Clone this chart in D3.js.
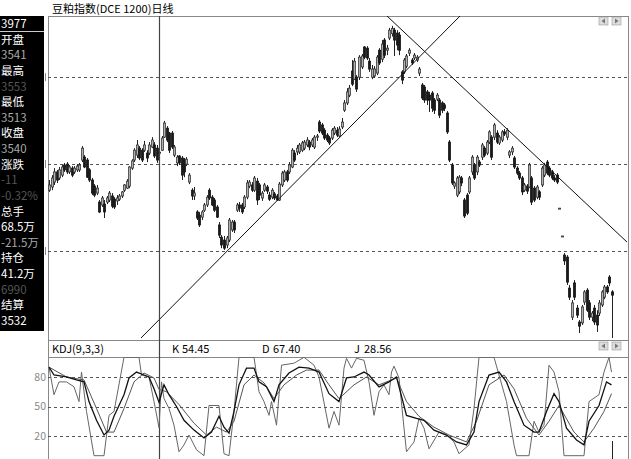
<!DOCTYPE html>
<html><head><meta charset="utf-8">
<script src="https://cdn.jsdelivr.net/npm/d3@7"></script>
<style>body{margin:0;background:#fff}svg{display:block}text{font-family:"Noto Sans CJK SC","Liberation Sans",sans-serif}</style>
</head><body><svg id="c" width="631" height="459"></svg>
<script>
const opens=[3410,3421,3438,3473,3452,3462,3497,3500,3473,3486,3473,3480,3480,3514,3524,3514,3480,3445,3424,3400,3369,3359,3362,3369,3376,3390,3379,3373,3379,3390,3410,3417,3424,3486,3514,3531,3555,3548,3548,3538,3538,3559,3566,3555,3541,3548,3593,3624,3607,3607,3531,3504,3528,3521,3514,3500,3438,3410,3390,3335,3324,3317,3341,3359,3410,3386,3376,3352,3290,3248,3238,3221,3238,3273,3300,3341,3359,3359,3352,3386,3424,3428,3410,3441,3428,3383,3410,3421,3393,3386,3397,3390,3376,3428,3445,3473,3473,3490,3538,3542,3542,3548,3555,3566,3576,3566,3559,3593,3645,3635,3617,3600,3590,3590,3607,3617,3597,3628,3686,3711,3738,3821,3793,3800,3800,3835,3904,3900,3855,3800,3804,3814,3893,3862,3928,3893,3935,3950,3962,3952,3945,3818,3818,3838,3883,3859,3866,3859,3814,3773,3766,3749,3738,3745,3721,3724,3721,3711,3704,3676,3576,3497,3424,3393,3404,3452,3376,3393,3404,3473,3497,3473,3507,3524,3555,3538,3576,3593,3593,3607,3573,3583,3611,3593,3531,3542,3521,3486,3469,3452,3410,3424,3421,3452,3417,3386,3404,3428,3462,3507,3486,3473,3452,3462,3348,3252,3186,3179,3072,2972,3090,3003,2955,2952,3024,3065,3021,2972,3003,2979,2986,3014,3041,3076,3110,3059];
const highs=[3445,3462,3486,3480,3490,3497,3504,3507,3497,3493,3493,3500,3504,3562,3531,3521,3486,3452,3431,3428,3376,3390,3376,3390,3407,3400,3386,3393,3397,3407,3431,3448,3493,3517,3555,3583,3562,3555,3580,3548,3576,3593,3576,3566,3553,3597,3649,3631,3611,3614,3566,3531,3531,3528,3521,3524,3469,3417,3421,3341,3335,3341,3366,3393,3417,3393,3383,3359,3300,3255,3252,3252,3314,3307,3307,3366,3369,3366,3393,3445,3445,3438,3459,3452,3435,3407,3435,3428,3404,3417,3404,3397,3438,3476,3480,3480,3507,3555,3548,3566,3573,3580,3583,3593,3583,3590,3600,3604,3652,3642,3624,3607,3597,3624,3631,3628,3631,3659,3721,3762,3773,3859,3866,3807,3876,3880,3907,3907,3866,3842,3838,3876,3900,3928,3935,3911,3970,3977,3970,3962,3956,3824,3866,3880,3900,3866,3883,3876,3835,3780,3773,3756,3749,3752,3728,3745,3728,3717,3711,3683,3583,3504,3441,3459,3462,3459,3383,3400,3459,3531,3504,3531,3514,3573,3562,3583,3617,3600,3642,3617,3600,3617,3621,3624,3548,3562,3528,3493,3476,3459,3435,3431,3504,3459,3424,3428,3410,3493,3504,3514,3493,3480,3462,3469,3348,3252,3193,3186,3083,3031,3100,3014,2962,3014,3065,3072,3031,2993,3014,2996,3031,3065,3083,3083,3117,3065];
const lows=[3404,3410,3428,3435,3445,3455,3473,3466,3466,3455,3466,3473,3473,3507,3486,3452,3438,3393,3386,3393,3331,3352,3314,3362,3369,3348,3345,3359,3373,3383,3404,3414,3417,3480,3507,3521,3514,3507,3542,3507,3531,3555,3521,3504,3513,3545,3590,3576,3538,3552,3524,3493,3497,3445,3455,3493,3431,3376,3376,3307,3283,3307,3335,3352,3376,3355,3335,3314,3245,3210,3204,3210,3231,3266,3262,3335,3335,3328,3345,3379,3417,3404,3404,3359,3376,3373,3404,3397,3373,3379,3376,3373,3373,3421,3438,3438,3466,3486,3507,3531,3535,3542,3548,3559,3548,3559,3552,3580,3607,3600,3583,3576,3566,3583,3600,3593,3593,3621,3680,3704,3731,3769,3790,3749,3790,3828,3862,3859,3818,3793,3797,3807,3842,3852,3866,3876,3928,3940,3873,3893,3876,3776,3811,3831,3873,3842,3859,3852,3804,3721,3711,3704,3680,3680,3673,3717,3659,3676,3683,3604,3507,3428,3414,3386,3397,3424,3314,3324,3397,3462,3445,3462,3490,3514,3524,3531,3569,3514,3583,3569,3566,3576,3597,3583,3521,3531,3483,3462,3445,3393,3404,3397,3417,3359,3369,3379,3376,3421,3455,3462,3455,3445,3438,3431,3348,3252,3152,3083,3031,2962,3031,2969,2917,2945,3014,2990,2962,2958,2945,2921,2976,3007,3034,3052,3079,2900];
const closes=[3428,3452,3473,3445,3480,3490,3480,3473,3490,3462,3486,3493,3497,3555,3490,3455,3445,3400,3393,3417,3335,3383,3335,3383,3400,3355,3352,3383,3390,3404,3428,3441,3490,3511,3548,3566,3521,3514,3566,3521,3566,3583,3528,3514,3540,3590,3642,3583,3548,3559,3559,3524,3504,3462,3473,3517,3462,3390,3400,3314,3290,3335,3359,3386,3383,3359,3341,3317,3255,3221,3210,3245,3307,3300,3273,3359,3348,3335,3386,3435,3438,3410,3452,3376,3393,3400,3428,3407,3379,3410,3383,3376,3431,3469,3473,3445,3497,3548,3514,3555,3566,3573,3576,3583,3559,3583,3593,3597,3614,3607,3590,3583,3573,3617,3624,3600,3621,3645,3711,3749,3762,3776,3855,3759,3869,3873,3869,3866,3828,3828,3828,3869,3849,3914,3876,3900,3962,3968,3928,3911,3893,3790,3859,3873,3893,3849,3876,3869,3828,3728,3721,3721,3721,3693,3686,3738,3669,3686,3693,3611,3514,3435,3435,3452,3455,3435,3321,3331,3452,3524,3452,3524,3497,3566,3531,3576,3611,3524,3635,3576,3593,3611,3604,3617,3542,3555,3490,3469,3452,3404,3428,3407,3497,3369,3376,3421,3386,3486,3497,3469,3462,3452,3445,3438,3348,3252,3166,3093,3041,3021,3041,2979,2941,3007,3059,2996,2972,2986,2955,2945,3021,3059,3076,3059,3090,3048];
const priceTicks=[3800,3500,3200];
const cursorIndex=44;
const riseIdx=[36.8,164.4], risePrice=[2900,4011];
const fallIdx=[135.2,231.2], fallPrice=[4011,3231];
const kIdx=[0,2,7,11,14,16,19,22,24,26,30,32,35,38,40,42,44,46,48,51,54,58,62,65,68,70,72,74,76,79,82,84,87,90,92,96,100,104,108,112,116,119,122,126,128,132,136,139,143,147,150,154,159,163,167,170,172,176,180,183,186,190,194,196,199,202,204,207,211,214,216,220,223,225];
const kVal=[90,82,80,77,75,55,36,21,26,40,62,79,85,82,80,68,54.45,72,62,50,36,26,18,24,40,29,23,45,72,89,89,75,70,55,72,84,90,89,85,63,55,79,80,85,82,70,75,80,41,38,36,26,21,14,11,24,55,82,85,75,55,31,24,24,45,63,55,28,16,11,35,51,75,72];
const dIdx=[0,7,14,19,23,26,30,34,38,42,44,47,52,58,63,67,71,74,78,82,86,90,94,99,103,108,112,116,122,127,132,139,143,148,154,160,167,171,176,182,186,191,196,200,204,210,214,218,222,225];
const dVal=[90,80,77,48,24,24,48,75,84,79,67.4,65,52,33,21,29,24,35,72,82,74,58,72,82,87,87,72,58,72,80,72,79,55,40,29,21,14,35,72,82,68,38,21,35,51,24,14,28,45,63];
const jIdx=[0,2,4,7,10,12,13,15,18,22,24,26,30,36,37,40,42,44,45,46,48,50,52,54,56,59,62,64,68,70,72,74,76,82,84,86,88,89,91,93,98,102,106,108,112,114,116,118,119,121,123,126,128,130,132,134,136,137,138,140,142,143,146,148,150,152,156,159,162,164,168,170,172,178,180,183,186,187,192,194,196,198,200,202,204,206,214,216,220,222,224,225];
const jVal=[90,62,75,75,70,55,85,45,0,0,41,45,100,100,82,80,55,28.56,75,58,48,31,4,11,21,6,0,51,51,2,0,45,100,100,65,55,41,55,31,92,94,100,92,80,28,45,31,89,99,89,99,97,75,41,65,72,62,85,91,79,28,4,14,38,28,7,24,21,14,2,11,48,100,100,82,55,11,0,0,35,24,31,92,85,65,0,0,55,62,85,100,85];
const kdjTicks=[80,50,20];
const infoLabels=["3977","开盘","3541","最高","3553","最低","3513","收盘","3540","涨跌","-11","-0.32%","总手","68.5万","-21.5万","持仓","41.2万","6990","结算","3532"];
const infoTone=["w","w","g","w","d","w","g","w","g","w","d","d","w","w","g","w","w","d","w","w"];

const svg=d3.select("#c");
const L=48,R=628,T=16,MB=340,HB=357,KB=459;
const N=opens.length;
const x=d3.scaleLinear().domain([0,N-1]).range([49,611.5]);
const y=d3.scaleLinear().domain([4011,2900]).range([T,338]);
const ky=d3.scaleLinear().domain([0,100]).range([455.7,357.3]);

const defs=svg.append("defs");
defs.append("clipPath").attr("id","mc").append("rect").attr("x",L).attr("y",T).attr("width",R-L).attr("height",MB-T);
defs.append("clipPath").attr("id","kc").append("rect").attr("x",L).attr("y",HB).attr("width",R-L).attr("height",KB-HB);

// title
svg.append("text").attr("x",52).attr("y",12.5).attr("font-size",11).attr("fill","#000").text("豆粕指数(DCE 1200)日线");

// left info panel
svg.append("rect").attr("x",0).attr("y",T).attr("width",44).attr("height",315).attr("fill","#000");
svg.append("line").attr("x1",0).attr("x2",44).attr("y1",31.5).attr("y2",31.5).attr("stroke","#ccc");
const toneCol={w:"#fff",g:"#aaa",d:"#555"};
const infoY=d3.scalePoint().domain(d3.range(infoLabels.length)).range([24,321]);
svg.append("g").selectAll("text").data(infoLabels).join("text")
 .attr("x",1).attr("y",(d,i)=>infoY(i)).attr("dy","0.35em").attr("font-size",11.5)
 .attr("fill",(d,i)=>toneCol[infoTone[i]]).text(d=>d);

// frames
const fr=svg.append("g").attr("stroke","#888").attr("fill","none");
fr.append("line").attr("x1",L).attr("x2",R).attr("y1",T+0.5).attr("y2",T+0.5);
fr.append("line").attr("x1",L).attr("x2",R).attr("y1",MB+0.5).attr("y2",MB+0.5);
fr.append("line").attr("x1",L).attr("x2",R).attr("y1",HB+0.5).attr("y2",HB+0.5);
fr.append("line").attr("x1",L+0.5).attr("x2",L+0.5).attr("y1",T).attr("y2",KB);
fr.append("line").attr("x1",R+0.5).attr("x2",R+0.5).attr("y1",T).attr("y2",KB);

// grid dashes
svg.append("g").selectAll("line").data(priceTicks).join("line")
 .attr("x1",L).attr("x2",R).attr("y1",d=>Math.round(y(d))+0.5).attr("y2",d=>Math.round(y(d))+0.5)
 .attr("stroke","#555").attr("stroke-dasharray","3,3");
svg.append("g").selectAll("line").data(priceTicks).join("line")
 .attr("x1",45.5).attr("x2",45.5).attr("y1",d=>y(d)-4).attr("y2",d=>y(d)+4).attr("stroke","#888");
svg.append("g").selectAll("line").data(kdjTicks).join("line")
 .attr("x1",L).attr("x2",R).attr("y1",d=>Math.round(ky(d))+0.5).attr("y2",d=>Math.round(ky(d))+0.5)
 .attr("stroke","#555").attr("stroke-dasharray","3,3");
svg.append("g").selectAll("text").data(kdjTicks).join("text")
 .attr("x",46).attr("y",d=>ky(d)).attr("dy","0.35em").attr("text-anchor","end").attr("font-size",10.5).attr("fill","#888").text(d=>d);

// candles
const cg=svg.append("g").attr("clip-path","url(#mc)");
const idx=d3.range(N);
cg.selectAll("line.w").data(idx).join("line").attr("class","w")
 .attr("x1",i=>Math.round(x(i))+0.5).attr("x2",i=>Math.round(x(i))+0.5)
 .attr("y1",i=>y(highs[i])).attr("y2",i=>y(lows[i])).attr("stroke","#222").attr("stroke-width",1);
cg.selectAll("rect").data(idx).join("rect")
 .attr("x",i=>Math.round(x(i))-0.6).attr("width",2.2)
 .attr("y",i=>y(Math.max(opens[i],closes[i])))
 .attr("height",i=>Math.max(1,Math.abs(y(opens[i])-y(closes[i]))))
 .attr("fill",i=>closes[i]>=opens[i]?"#b0b0b0":"#1a1a1a")
 .attr("stroke",i=>closes[i]>=opens[i]?"#3a3a3a":"#1a1a1a").attr("stroke-width",0.8);

// trend lines
const tl=d3.line().x(d=>x(d[0])).y(d=>y(d[1]));
cg.append("path").attr("d",tl(riseIdx.map((v,i)=>[v,risePrice[i]]))).attr("stroke","#111").attr("fill","none");
cg.append("path").attr("d",tl(fallIdx.map((v,i)=>[v,fallPrice[i]]))).attr("stroke","#111").attr("fill","none");

// cursor line
svg.append("line").attr("x1",Math.round(x(cursorIndex))+0.5).attr("x2",Math.round(x(cursorIndex))+0.5)
 .attr("y1",T).attr("y2",KB).attr("stroke","#444").attr("stroke-width",1.2);

// KDJ header
svg.append("text").attr("x",52).attr("y",349).attr("dy","0.35em").attr("font-size",11).attr("fill","#000").text("KDJ(9,3,3)");
const hdr=[["K","54.45",172,182],["D","67.40",262,273],["J","28.56",354,364]];
hdr.forEach(h=>{
 svg.append("text").attr("x",h[2]).attr("y",349).attr("dy","0.35em").attr("font-size",11).text(h[0]);
 svg.append("text").attr("x",h[3]).attr("y",349).attr("dy","0.35em").attr("font-size",11).text(h[1]);
});

// KDJ lines
const kg=svg.append("g").attr("clip-path","url(#kc)").attr("fill","none");
const kl=d3.line().x(d=>x(d[0])).y(d=>ky(d[1]));
kg.append("path").attr("d",kl(jIdx.map((v,i)=>[v,jVal[i]]))).attr("stroke","#666").attr("stroke-width",1);
kg.append("path").attr("d",kl(dIdx.map((v,i)=>[v,dVal[i]]))).attr("stroke","#555").attr("stroke-width",1);
kg.append("path").attr("d",kl(kIdx.map((v,i)=>[v,kVal[i]]))).attr("stroke","#111").attr("stroke-width",1.3);
svg.append("line").attr("x1",Math.round(x(N-1))+0.5).attr("x2",Math.round(x(N-1))+0.5).attr("y1",441).attr("y2",KB).attr("stroke","#222");

// buttons
function btns(yy){
 [599,612].forEach((bx,j)=>{
  svg.append("rect").attr("x",bx).attr("y",yy).attr("width",9).attr("height",8).attr("fill","#ddd").attr("stroke","#999").attr("stroke-width",0.6);
  const p=j==0?[[bx+6,yy+1.5],[bx+6,yy+6.5],[bx+2.5,yy+4]]:[[bx+3,yy+1.5],[bx+3,yy+6.5],[bx+6.5,yy+4]];
  svg.append("path").attr("d","M"+p.join("L")+"Z").attr("fill","#777");
 });
}
btns(17); btns(342);
</script></body></html>
